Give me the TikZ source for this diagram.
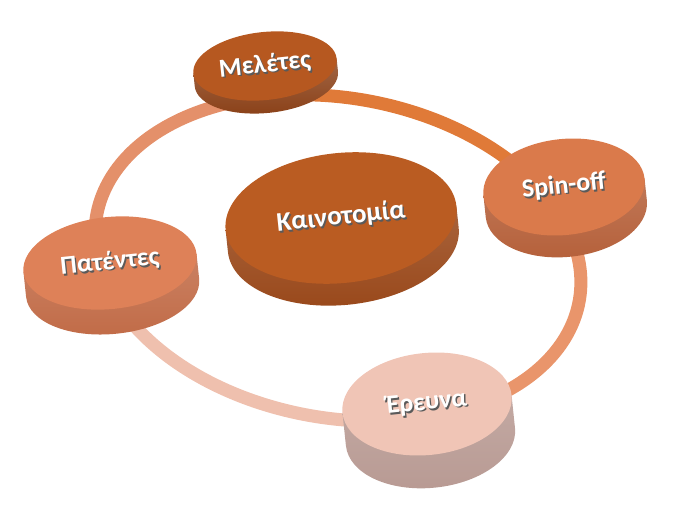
\documentclass[tikz,border=0pt]{standalone}
\usepackage{fontspec}
\setmainfont{Carlito}
\usetikzlibrary{shapes.geometric}

\definecolor{melTop}{HTML}{B65820}
\definecolor{melSide}{HTML}{8A4017}
\definecolor{kaiTop}{HTML}{BA5C22}
\definecolor{kaiSide}{HTML}{99481A}
\definecolor{spinTop}{HTML}{DA7A4B}
\definecolor{spinSide}{HTML}{B5603A}
\definecolor{patTop}{HTML}{DE8158}
\definecolor{patSide}{HTML}{C16B47}
\definecolor{ereTop}{HTML}{F0C5B6}
\definecolor{ereSide}{HTML}{B89A93}
\definecolor{ringA}{HTML}{E07A38}
\definecolor{ringB}{HTML}{E9956B}
\definecolor{ringC}{HTML}{EFC0AE}
\definecolor{ringD}{HTML}{E4906A}
\definecolor{txtshadow}{HTML}{5A5A5A}

\newcommand\shtext[1]{\makebox[0pt][l]{\hspace{1.3pt}\raisebox{-2pt}{\textcolor{txtshadow}{#1}}}#1}

\tikzset{
  ring/.style={line width=13pt},
  disc/.style={ellipse, inner sep=0pt, rotate=6, text=white,
    font=\bfseries\fontsize{26}{30}\selectfont},
}

\begin{document}
\begin{tikzpicture}[x=1pt,y=-1pt]
  \useasboundingbox (0,0) rectangle (674,513);

  % ring behind the discs
  \begin{scope}[shift={(338,258)},rotate=-10]
    \coordinate (rmel) at (246:245 and 160);
    \coordinate (rspin) at (328:245 and 160);
    \coordinate (rere) at (63:245 and 160);
    \coordinate (rpat) at (157:245 and 160);
    \draw[ring,ringA] (rmel) arc[start angle=246,end angle=328,x radius=245,y radius=160];
    \draw[ring,ringB] (rspin) arc[start angle=-32,end angle=63,x radius=245,y radius=160];
    \draw[ring,ringC] (rere) arc[start angle=63,end angle=157,x radius=245,y radius=160];
    \draw[ring,ringD] (rpat) arc[start angle=157,end angle=246,x radius=245,y radius=160];
  \end{scope}

  % Meletes
  \begin{scope}[shift={(265,66)},rotate=6]
    \shade[top color=melSide!80!white,bottom color=melSide] (-72,0) -- (-72,13)
      arc[start angle=180,end angle=0,x radius=72,y radius=34] -- (72,0) -- cycle;
  \end{scope}
  \node[disc,fill=melTop,minimum width=144pt,minimum height=68pt] (mel) at (265,66) {\shtext{Μελέτες}};

  % Spin-off
  \begin{scope}[shift={(564,187)},rotate=6]
    \shade[top color=spinSide!85!white,bottom color=spinSide] (-81,0) -- (-81,22)
      arc[start angle=180,end angle=0,x radius=81,y radius=48] -- (81,0) -- cycle;
  \end{scope}
  \node[disc,fill=spinTop,minimum width=162pt,minimum height=96pt] (spin) at (564,187) {\shtext{Spin-off}};

  % Kainotomia
  \begin{scope}[shift={(341,218)},rotate=6]
    \shade[top color=kaiSide!85!white,bottom color=kaiSide] (-116,0) -- (-116,22)
      arc[start angle=180,end angle=0,x radius=116,y radius=65] -- (116,0) -- cycle;
  \end{scope}
  \node[disc,fill=kaiTop,minimum width=232pt,minimum height=130pt,
    font=\bfseries\fontsize{27}{31}\selectfont] (kai) at (341,218) {\shtext{Καινοτομία}};

  % Patentes
  \begin{scope}[shift={(110,263)},rotate=6]
    \shade[top color=patSide!85!white,bottom color=patSide] (-87,0) -- (-87,25)
      arc[start angle=180,end angle=0,x radius=87,y radius=46] -- (87,0) -- cycle;
  \end{scope}
  \node[disc,fill=patTop,minimum width=174pt,minimum height=92pt] (pat) at (110,263) {\shtext{Πατέντες}};

  % Ereuna
  \begin{scope}[shift={(427,404)},rotate=6]
    \shade[top color=ereSide!85!white,bottom color=ereSide] (-85,0) -- (-85,33)
      arc[start angle=180,end angle=0,x radius=85,y radius=51] -- (85,0) -- cycle;
  \end{scope}
  \node[disc,fill=ereTop,minimum width=170pt,minimum height=102pt] (ere) at (427,404) {\shtext{Έρευνα}};
\end{tikzpicture}
\end{document}
